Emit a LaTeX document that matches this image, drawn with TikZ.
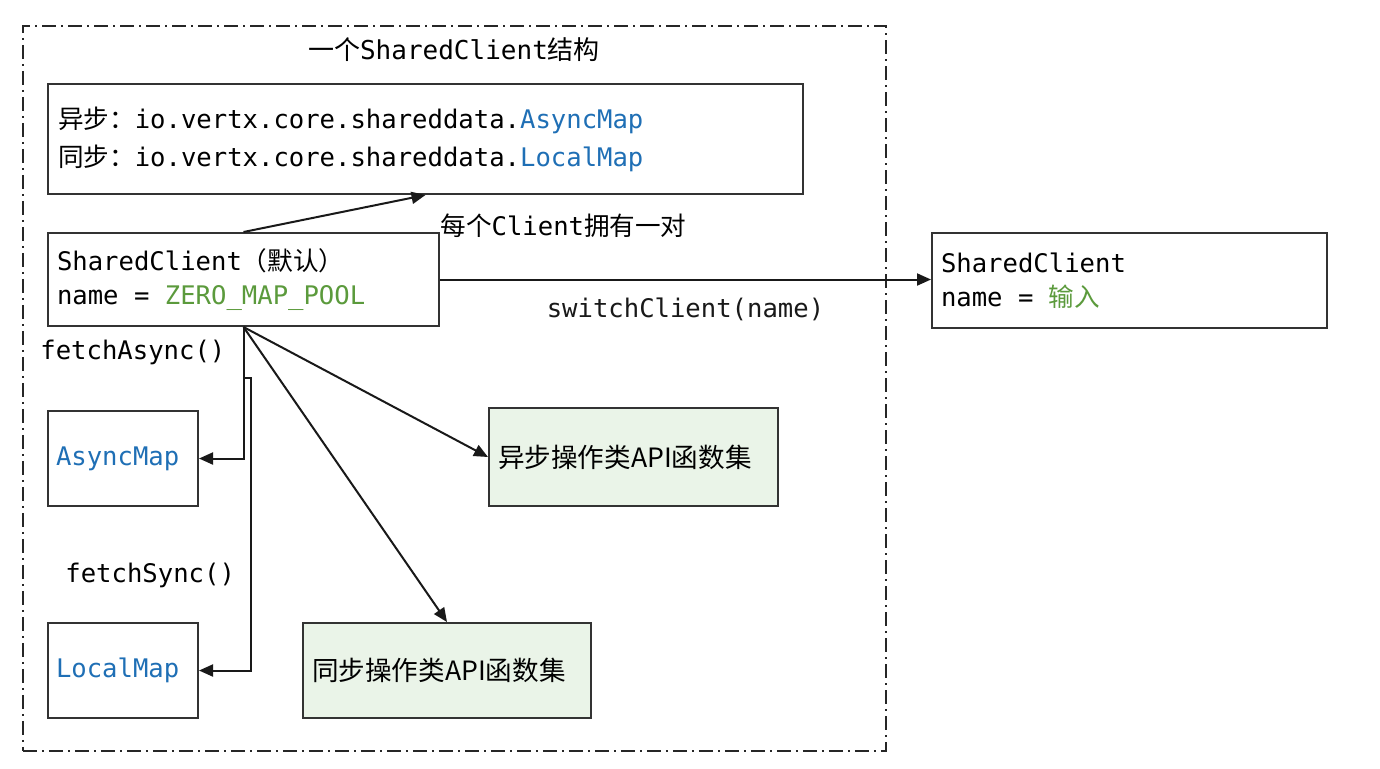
\documentclass[tikz,border=0pt]{standalone}
\usepackage{fontspec}
\setmonofont{DejaVu Sans Mono}
\newfontfamily\cjk{Noto Sans CJK SC}
\usetikzlibrary{positioning,arrows.meta,calc}
\definecolor{mapblue}{HTML}{1F6FB5}
\definecolor{namegreen}{HTML}{5B9A3C}
\definecolor{apifill}{HTML}{EAF4E8}
\definecolor{edge}{HTML}{333333}
\newcommand\msp{\hspace{0.602em}}
\tikzset{
  blk/.style={draw=edge, line width=1pt, anchor=north west, align=left, inner xsep=4.5pt,
    font=\ttfamily\fontsize{12.8}{17}\selectfont},
  api/.style={blk, fill=apifill, font=\cjk\fontsize{13.3}{17}\selectfont},
  lbl/.style={font=\ttfamily\fontsize{12.8}{16}\selectfont, inner sep=0pt},
  arr/.style={-{Triangle[length=7pt,width=6pt]}, line width=1pt, black!90}}

\begin{document}
\begin{tikzpicture}[x=0.5pt, y=-0.5pt]
\useasboundingbox (0,0) rectangle (1380,768);
% outer frame
\node[draw=black!85, line width=0.9pt, dash pattern=on 7pt off 2.5pt on 1pt off 2.5pt,
  anchor=north west, minimum width=431.5pt, minimum height=362.5pt, inner sep=0pt] (frame) at (22,25) {};
\node[font=\ttfamily\fontsize{13}{16}\selectfont, inner sep=0pt] (title) at (454,50)
  {{\cjk 一个}SharedClient{\cjk 结构}};

\node[blk, inner xsep=5pt, text width=367.5pt, minimum height=55pt,
  font=\ttfamily\fontsize{12.8}{19}\selectfont] (maps) at (47,83)
  {{\cjk 异步：}io.vertx.core.shareddata.\textcolor{mapblue}{AsyncMap}\\
   {\cjk 同步：}io.vertx.core.shareddata.\textcolor{mapblue}{LocalMap}};
\node[blk, text width=186.5pt, minimum height=46.5pt] (sc) at (47,232)
  {SharedClient{\cjk （默认）}\\name\msp=\msp\textcolor{namegreen}{ZERO\_MAP\_POOL}};
\node[blk, text width=188.5pt, minimum height=47.5pt] (sc2) at (931,232)
  {SharedClient\\name\msp=\msp\textcolor{namegreen}{\cjk 输入}};
\node[blk, inner xsep=4pt, text width=67pt, minimum height=47.5pt] (amap) at (47,410)
  {\textcolor{mapblue}{AsyncMap}};
\node[blk, inner xsep=4pt, text width=67pt, minimum height=47.5pt] (lmap) at (47,622)
  {\textcolor{mapblue}{LocalMap}};
\node[api, text width=135.5pt, minimum height=49pt] (aapi) at (488,407) {异步操作类API函数集};
\node[api, text width=135pt, minimum height=47.5pt] (sapi) at (302,622) {同步操作类API函数集};

% connectors
\draw[arr] (sc.north) -- (maps.south);
\node[lbl, anchor=west] (pair) at (440,226) {{\cjk 每个}Client{\cjk 拥有一对}};
\draw[arr] (sc.east) -- node[lbl, below=8.5pt] (sw) {switchClient(name)} (sc.east -| sc2.west);
\draw[arr] (sc.south) -- (aapi.west);
\draw[arr] (sc.south) -- (sapi.north);
\draw[arr] (sc.south) -- (sc.south |- amap.east) -- (amap.east);
\node[lbl, anchor=west] (fa) at (40,352) {fetchAsync()};
\coordinate (fork) at (251,378);
\draw[arr] (sc.south |- fork) -- (fork) -- (fork |- lmap.east) -- (lmap.east);
\node[lbl, anchor=west] (fs) at (65,575) {fetchSync()};
\end{tikzpicture}
\end{document}
